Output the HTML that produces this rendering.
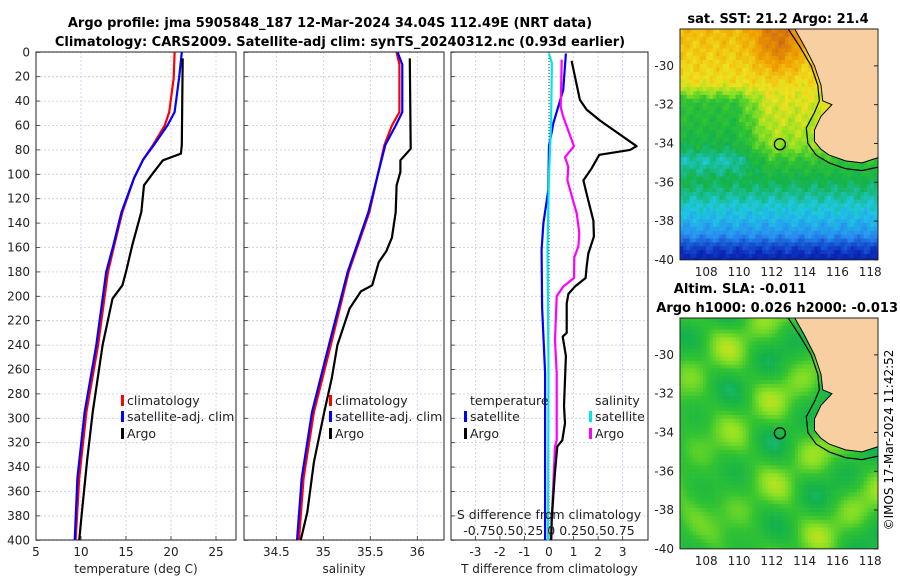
<!DOCTYPE html>
<html><head><meta charset="utf-8"><style>
html,body{margin:0;padding:0;background:#fff;}
svg{display:block;font-family:"DejaVu Sans","Liberation Sans",sans-serif;}
</style></head><body>
<svg id="fig" xmlns="http://www.w3.org/2000/svg" width="900" height="580" viewBox="0 0 900 580">
<rect x="0" y="0" width="900" height="580" fill="#fff"/>
<text x="330" y="27" text-anchor="middle" font-size="13" font-weight="bold">Argo profile: jma 5905848_187 12-Mar-2024 34.04S 112.49E (NRT data)</text>
<text x="340" y="46" text-anchor="middle" font-size="13" font-weight="bold">Climatology: CARS2009. Satellite-adj clim: synTS_20240312.nc (0.93d earlier)</text>
<text x="778" y="23" text-anchor="middle" font-size="13" font-weight="bold">sat. SST: 21.2 Argo: 21.4</text>
<text x="740" y="293" text-anchor="middle" font-size="13" font-weight="bold">Altim. SLA: -0.011</text>
<text x="898" y="312" text-anchor="end" font-size="13" font-weight="bold">Argo h1000: 0.026 h2000: -0.013</text>
<text x="0" y="0" transform="translate(893,440) rotate(-90)" text-anchor="middle" font-size="12">©IMOS 17-Mar-2024 11:42:52</text>
<g id="g1"></g>
<g id="g2"></g>
<g id="g3"></g>
<g id="m1"></g>
<g id="m2"></g>
</svg>
<script>
// ---------- data ----------
const depthTicks=[0,20,40,60,80,100,120,140,160,180,200,220,240,260,280,300,320,340,360,380,400];
const tempTicks=[5,10,15,20,25];
const salTicks=[34.5,35,35.5,36];
const diffTicks=[-3,-2,-1,0,1,2,3];
const tempClimDepth=[0,21,49,60,76,88,103,131,158,180,240,295,349,400];
const tempClim=[20.4,20.3,19.8,19.3,18.0,16.9,15.9,14.6,13.7,13.0,11.9,10.6,9.8,9.4];
const tempSatDepth=[0,21,49,60,76,88,103,131,158,180,240,295,349,400];
const tempSat=[21.2,20.9,20.4,19.6,18.1,16.9,15.9,14.5,13.6,12.8,11.7,10.4,9.6,9.3];
const tempArgoDepth=[5,76,83,88.5,98,109,131,158,180,191,202,240,295,333,377,400];
const tempArgo=[21.3,21.2,21.1,19.1,18.1,17.0,16.7,15.7,15.0,14.6,13.5,12.4,11.3,10.7,10.1,9.8];
const salClimDepth=[0,10,49,60,76,131,180,240,295,349,400];
const salClim=[35.78,35.81,35.81,35.73,35.65,35.49,35.27,35.08,34.90,34.79,34.74];
const salSatDepth=[0,10,49,60,76,131,180,240,295,349,400];
const salSat=[35.79,35.84,35.84,35.77,35.66,35.48,35.26,35.06,34.88,34.77,34.72];
const salArgoDepth=[5,79,88.5,98,109,131,152,163,172,191,196,210,240,267,295,336,377,400];
const salArgo=[35.92,35.93,35.82,35.82,35.78,35.77,35.73,35.67,35.59,35.52,35.40,35.28,35.15,35.09,35.01,34.90,34.83,34.76];
const tDiffSatDepth=[1,31,58,77,113,140,162,209,263,400];
const tDiffSat=[0.69,0.58,0.18,0,-0.03,-0.23,-0.3,-0.28,-0.16,-0.16];
const sDiffSatDepth=[1,9,60,100,160,260,400];
const sDiffSat=[0,0.03,0.02,0,-0.015,-0.005,-0.01];
const sDiffArgoDepth=[6,45,53,77,86,94,105,132,148,159,168,185,192,200,236,263,318,323,383,400];
const sDiffArgo=[0.129,0.119,0.146,0.255,0.163,0.197,0.187,0.282,0.309,0.299,0.258,0.255,0.146,0.078,0.061,0.078,0.078,0.061,0.027,0.025];
const tDiffArgoDepth=[7,39,47,56,77,80,84,95,105,116,138,151,165,176,185,192,198,206,230,233,249,290,304,318,323,345,383,400];
const tDiffArgo=[0.92,1.26,1.53,2.08,3.57,3.30,2.05,1.74,1.40,1.53,1.81,1.83,1.60,1.53,1.49,1.06,0.79,0.72,0.72,0.56,0.69,0.61,0.65,0.54,0.34,0.24,0.11,0.08];
const mapLatTicks=[-30,-32,-34,-36,-38,-40];
const mapLonTicks=[108,110,112,114,116,118];
const coastLon=[113.4,114.0,114.6,115.0,115.1,115.66,115.0,114.6,114.6,115.0,115.5,116.5,117.5,118.6];
const coastLat=[-28.1,-29,-30,-31,-31.8,-32.0,-32.6,-33.3,-33.9,-34.3,-34.6,-34.9,-35.0,-34.7];
const isoLon=[113.0,113.7,114.4,114.8,114.9,114.6,114.1,114.2,114.7,115.5,116.5,117.5,118.6];
const isoLat=[-28.1,-29,-30,-31,-31.8,-32.4,-33.2,-34.0,-34.6,-35.0,-35.3,-35.4,-35.2];
const floatLon=[112.49];
const floatLat=[-34.04];

// ---------- helpers ----------
const NS="http://www.w3.org/2000/svg";
function mk(tag,attrs,parent){const e=document.createElementNS(NS,tag);for(const k in attrs)e.setAttribute(k,attrs[k]);parent.appendChild(e);return e;}
const yD=d=>52.3+d*1.22;
const P=[{g:'g1',x0:36,x1:236,xf:t=>36+(t-5)*9,ticks:tempTicks,lab:'temperature (deg C)'},
         {g:'g2',x0:244,x1:444,xf:s=>276.3+(s-34.5)*94,ticks:salTicks,lab:'salinity'},
         {g:'g3',x0:451,x1:648,xf:t=>549+t*24.55,ticks:diffTicks,lab:'T difference from climatology'}];
const xS=s=>549+s*4*24.55;

P.forEach((p,i)=>{
  const g=document.getElementById(p.g);
  depthTicks.forEach(d=>{
    const l=mk('line',{x1:p.x0,x2:p.x1,y1:yD(d),y2:yD(d),stroke:'#c5cbe6','stroke-width':0.8,'stroke-dasharray':'2,2'},g);
    
    
    const tk=mk('line',{x1:p.x0,x2:p.x0+4,y1:yD(d),y2:yD(d),stroke:'#333','stroke-width':0.8},g);
    
    
    if(i===0){
      const t=mk('text',{x:30,y:yD(d)+4,'text-anchor':'end','font-size':12,fill:'#222'},g);
      t.textContent=d;
      
      
    }
  });
  p.ticks.forEach(v=>{
    const x=p.xf(v);
    if(x>p.x0+1&&x<p.x1-1){
      const l=mk('line',{x1:x,x2:x,y1:52,y2:540,stroke:'#c5cbe6','stroke-width':0.8,'stroke-dasharray':'2,2'},g);
      
      
    }
    const tk=mk('line',{x1:x,x2:x,y1:540,y2:536,stroke:'#333','stroke-width':0.8},g);
    
    
    const t=mk('text',{x:x,y:556,'text-anchor':'middle','font-size':12,fill:'#222'},g);
    t.textContent=v;
    
    
  });
  const fr=mk('rect',{x:p.x0,y:52,width:p.x1-p.x0,height:488,fill:'none',stroke:'#222','stroke-width':1},g);
  
  
  const at=mk('text',{x:(p.x0+p.x1)/2,y:573,'text-anchor':'middle','font-size':12,fill:'#222'},g);
  at.textContent=p.lab;
  
  
});

function series(gid,depths,vals,xf,color,w,name){
  const g=document.getElementById(gid);
  const pts=depths.map((d,i)=>xf(vals[i]).toFixed(1)+','+yD(d).toFixed(1)).join(' ');
  const e=mk('polyline',{points:pts,fill:'none',stroke:color,'stroke-width':w,'stroke-linejoin':'round'},g);
  
  
}
series('g1',tempClimDepth,tempClim,P[0].xf,'#ff0000',2.2,'temperature-climatology-line');
series('g1',tempSatDepth,tempSat,P[0].xf,'#0000ff',2.2,'temperature-satellite-line');
series('g1',tempArgoDepth,tempArgo,P[0].xf,'#000000',2.2,'temperature-argo-line');
series('g2',salClimDepth,salClim,P[1].xf,'#ff0000',2.2,'salinity-climatology-line');
series('g2',salSatDepth,salSat,P[1].xf,'#0000ff',2.2,'salinity-satellite-line');
series('g2',salArgoDepth,salArgo,P[1].xf,'#000000',2.2,'salinity-argo-line');
(function(){const g=document.getElementById('g3');
  const z=mk('line',{x1:549,x2:549,y1:52,y2:540,stroke:'#333','stroke-width':1,'stroke-dasharray':'1,2'},g);
  
  })();
series('g3',tDiffSatDepth,tDiffSat,P[2].xf,'#0000ff',2.2,'t-diff-satellite-line');
series('g3',sDiffSatDepth,sDiffSat,xS,'#00e5ee',2.2,'s-diff-satellite-line');
series('g3',sDiffArgoDepth,sDiffArgo,xS,'#ff00ff',2.2,'s-diff-argo-line');
series('g3',tDiffArgoDepth,tDiffArgo,P[2].xf,'#000000',2.2,'t-diff-argo-line');

function legend(gid,x,y,color,label,name){
  const g=document.getElementById(gid);
  const r=mk('rect',{x:x,y:y-10,width:3,height:11,fill:color},g);
  
  
  const t=mk('text',{x:x+6,y:y,'font-size':12.5,fill:'#222'},g);
  t.textContent=label;
  
  
}
legend('g1',121,405,'#ff0000','climatology','legend-climatology');
legend('g1',121,421,'#0000ff','satellite-adj. clim','legend-satellite-adj');
legend('g1',121,438,'#000000','Argo','legend-argo');
legend('g2',329,405,'#ff0000','climatology','legend-climatology');
legend('g2',329,421,'#0000ff','satellite-adj. clim','legend-satellite-adj');
legend('g2',329,438,'#000000','Argo','legend-argo');
legend('g3',464,421,'#0000ff','satellite','legend-t-satellite');
legend('g3',464,438,'#000000','Argo','legend-t-argo');
legend('g3',589,421,'#00e5ee','satellite','legend-s-satellite');
legend('g3',589,438,'#ff00ff','Argo','legend-s-argo');
(function(){const g=document.getElementById('g3');
  const a=mk('text',{x:470,y:405,'font-size':12.5,fill:'#222'},g);a.textContent='temperature';
  
  
  const b=mk('text',{x:595,y:405,'font-size':12.5,fill:'#222'},g);b.textContent='salinity';
  
  
  const c=mk('text',{x:549,y:519,'text-anchor':'middle','font-size':12.5,fill:'#222'},g);c.textContent='S difference from climatology';
  
  
  const d=mk('text',{x:549,y:535,'text-anchor':'middle','font-size':12.5,fill:'#222'},g);d.textContent='-0.750.50.25 0  0.250.50.75';
  
  
})();

// ---------- maps ----------
const stops=[[0,[0,0,120]],[0.15,[10,40,185]],[0.3,[40,140,240]],[0.4,[30,200,225]],[0.5,[20,178,74]],[0.58,[50,195,50]],[0.65,[140,225,35]],[0.72,[240,225,30]],[0.82,[240,160,0]],[0.92,[210,110,15]],[1,[175,65,0]]];
function cmap(v){v=Math.max(0,Math.min(1,v));for(let i=1;i<stops.length;i++){if(v<=stops[i][0]){const a=stops[i-1],b=stops[i],f=(v-a[0])/(b[0]-a[0]);return 'rgb('+a[1].map((c,k)=>Math.round(c+(b[1][k]-c)*f)).join(',')+')';}}return 'rgb(175,65,0)';}
const latB=[-28,-29,-30,-31,-32,-33,-34,-34.8,-35.5,-36.3,-37,-37.8,-38.6,-39.2,-40];
const vB=[0.78,0.76,0.74,0.72,0.7,0.68,0.65,0.57,0.52,0.47,0.42,0.37,0.31,0.2,0.12];
function interp(xs,ys,x){if(x>=xs[0])return ys[0];for(let i=1;i<xs.length;i++){if(x>=xs[i]){const f=(x-xs[i-1])/(xs[i]-xs[i-1]);return ys[i-1]+(ys[i]-ys[i-1])*f;}}return ys[ys.length-1];}
function sst(lon,lat){let v=interp(latB,vB,lat);
  const w=Math.max(0,Math.min(1,(111.8-lon)/2.2));
  const b=Math.max(0,Math.min(1,(-30.8-lat)/1.0))*Math.max(0,Math.min(1,(lat+35.8)/1.0));
  v-=0.14*w*b;
  if(lat>-31) v+=0.13*Math.exp(-Math.pow((lon-112.3)/1.4,2))*Math.min(1,(lat+31)/2);
  v+=0.025*Math.sin(lon*5.3+lat*3.1)*Math.cos(lat*4.7)+0.015*Math.sin(lon*9.1-lat*7.3);return v;}
function sla(lon,lat){return 0.58+0.045*Math.sin(lon*1.1+0.5)*Math.cos(lat*1.3+1)+0.04*Math.sin(lon*0.8-lat*1.5+2)+0.025*Math.cos(lon*1.9+lat*1.7);}
function drawMap(gid,top,field,name,clipId){
  const g=document.getElementById(gid);
  const mx=lon=>680+(lon-106.4)*16.4, my=lat=>top+(-28.1-lat)*19.4;
  const defs=mk('defs',{},g);const cp=mk('clipPath',{id:clipId},defs);mk('rect',{x:680,y:my(-28.1),width:198,height:my(-40)-my(-28.1)},cp);
  const cells=mk('g',{'clip-path':'url(#'+clipId+')'},g);
  
  
  for(let lat=-28.1;lat>-40.1;lat-=0.2){for(let lon=106.4;lon<118.7;lon+=0.2){
    mk('rect',{x:mx(lon).toFixed(1),y:my(lat).toFixed(1),width:3.6,height:4.2,fill:cmap(field(lon,lat))},cells);}}
  let lp=coastLon.map((l,i)=>mx(l).toFixed(1)+','+my(coastLat[i]).toFixed(1)).join(' ')+' '+mx(118.7)+','+my(-28.1);
  const land=mk('polygon',{points:lp,fill:'#f8cfa0',stroke:'#000','stroke-width':1},cells);
  
  
  const iso=mk('polyline',{points:isoLon.map((l,i)=>mx(l).toFixed(1)+','+my(isoLat[i]).toFixed(1)).join(' '),fill:'none',stroke:'#000','stroke-width':1.2},cells);
  
  
  const c=mk('circle',{cx:mx(floatLon[0]),cy:my(floatLat[0]),r:5.5,fill:'none',stroke:'#000','stroke-width':1.3},g);
  
  
  const fr=mk('rect',{x:680,y:my(-28.1),width:198,height:my(-40)-my(-28.1),fill:'none',stroke:'#222','stroke-width':1},g);
  
  
  mapLatTicks.forEach(l=>{const y=my(l);
    const t=mk('text',{x:674,y:y+4,'text-anchor':'end','font-size':12,fill:'#222'},g);t.textContent=l;
    
    
    const k=mk('line',{x1:874,x2:878,y1:y,y2:y,stroke:'#222'},g);
    
    });
  mapLonTicks.forEach(l=>{const x=mx(l);
    const t=mk('text',{x:x,y:my(-40)+16,'text-anchor':'middle','font-size':12,fill:'#222'},g);t.textContent=l;
    
    });
}
drawMap('m1',29,sst,'sst-map','c1');
drawMap('m2',318,sla,'sla-map','c2');
</script>
</body></html>
